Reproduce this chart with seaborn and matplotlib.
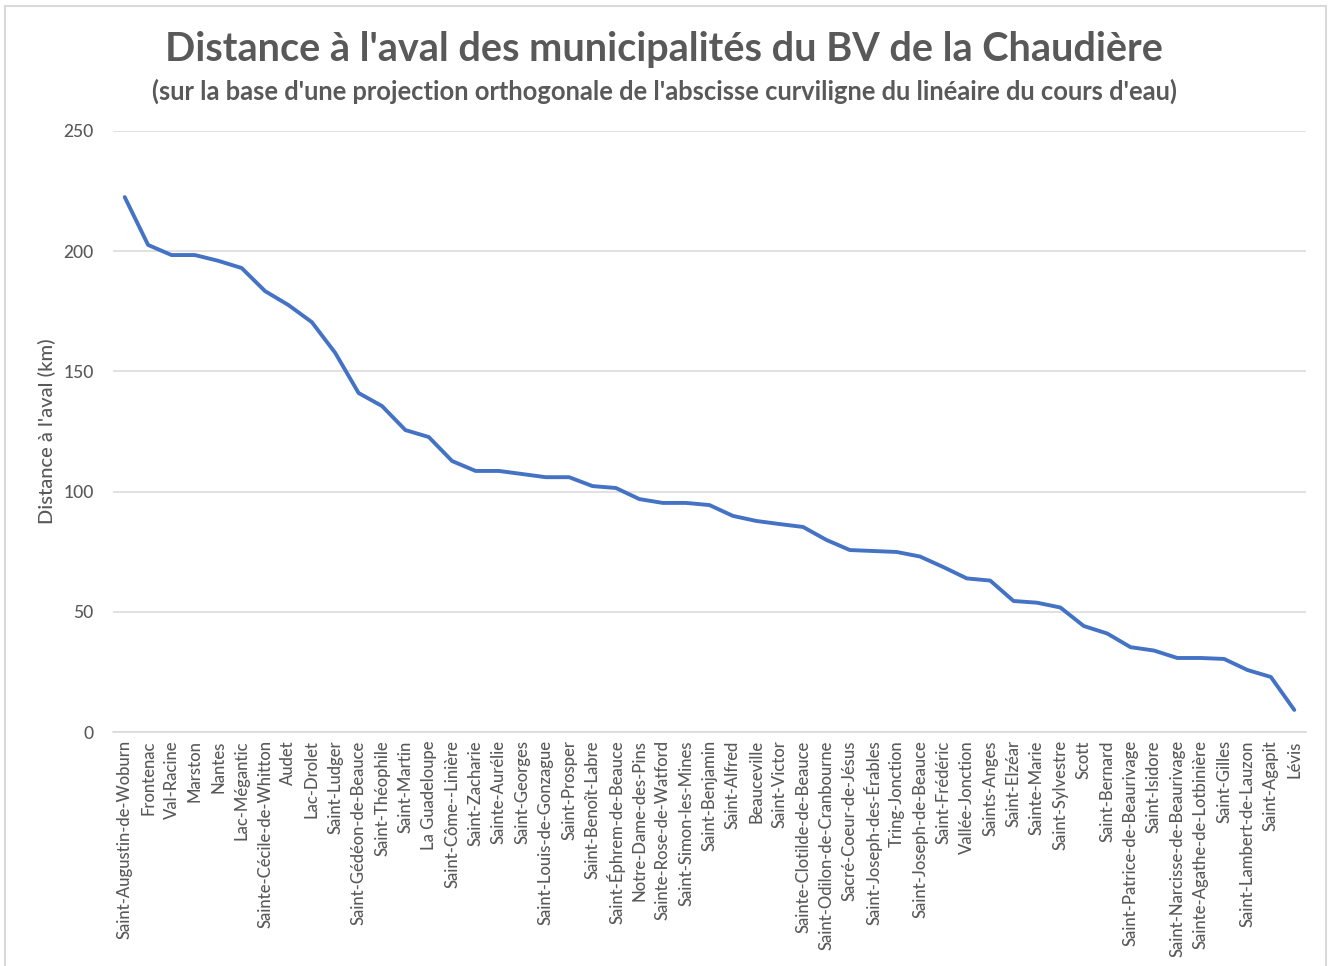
import matplotlib.pyplot as plt
import matplotlib.patches as patches
import seaborn as sns
import pandas as pd

municipalites = [
    "Saint-Augustin-de-Woburn", "Frontenac", "Val-Racine", "Marston", "Nantes",
    "Lac-Mégantic", "Sainte-Cécile-de-Whitton", "Audet", "Lac-Drolet", "Saint-Ludger",
    "Saint-Gédéon-de-Beauce", "Saint-Théophile", "Saint-Martin", "La Guadeloupe",
    "Saint-Côme--Linière", "Saint-Zacharie", "Sainte-Aurélie", "Saint-Georges",
    "Saint-Louis-de-Gonzague", "Saint-Prosper", "Saint-Benoît-Labre",
    "Saint-Éphrem-de-Beauce", "Notre-Dame-des-Pins", "Sainte-Rose-de-Watford",
    "Saint-Simon-les-Mines", "Saint-Benjamin", "Saint-Alfred", "Beauceville",
    "Saint-Victor", "Sainte-Clotilde-de-Beauce", "Saint-Odilon-de-Cranbourne",
    "Sacré-Coeur-de-Jésus", "Saint-Joseph-des-Érables", "Tring-Jonction",
    "Saint-Joseph-de-Beauce", "Saint-Frédéric", "Vallée-Jonction", "Saints-Anges",
    "Saint-Elzéar", "Sainte-Marie", "Saint-Sylvestre", "Scott", "Saint-Bernard",
    "Saint-Patrice-de-Beaurivage", "Saint-Isidore", "Saint-Narcisse-de-Beaurivage",
    "Sainte-Agathe-de-Lotbinière", "Saint-Gilles", "Saint-Lambert-de-Lauzon",
    "Saint-Agapit", "Lévis",
]

distance_km = [
    222.5, 202.6, 198.4, 198.4, 196.0, 193.0, 183.4, 177.6, 170.5, 157.7,
    141.0, 135.6, 125.6, 122.7, 112.7, 108.6, 108.6, 107.3, 106.0, 106.0,
    102.3, 101.5, 96.9, 95.3, 95.3, 94.4, 89.9, 87.8, 86.5, 85.3,
    79.9, 75.7, 75.3, 74.9, 73.0, 68.6, 63.9, 63.0, 54.5, 53.8,
    51.8, 44.1, 41.0, 35.3, 33.9, 30.8, 30.8, 30.4, 25.8, 22.9,
    9.2,
]

y_ticks = [0, 50, 100, 150, 200, 250]

df = pd.DataFrame({"municipalite": municipalites, "distance": distance_km})

sns.set_theme(style="white")
plt.rcParams["font.family"] = ["Lato", "DejaVu Sans"]
text_color = "#595959"

fig = plt.figure(figsize=(13.28, 9.66), dpi=100)
ax = fig.add_axes([0.0851, 0.2422, 0.8983, 0.6222])

# chart area border (light gray frame like the spreadsheet export)
fig.patches.append(patches.Rectangle((5 / 1328, -0.01), 1321 / 1328, 1.0 - 6 / 966 + 0.01,
                                     transform=fig.transFigure, fill=False,
                                     edgecolor="#D9D9D9", linewidth=1.5))

sns.lineplot(data=df, x="municipalite", y="distance", sort=False,
             color="#4472C4", linewidth=2.8, ax=ax)

ax.set_ylim(0, 250)
ax.set_xlim(-0.5, len(municipalites) - 0.5)
ax.set_yticks(y_ticks)
ax.grid(axis="y", color="#D9D9D9", linewidth=1.1)
ax.set_axisbelow(True)
for side in ["top", "right", "left"]:
    ax.spines[side].set_visible(False)
ax.spines["bottom"].set_color("#D9D9D9")
ax.spines["bottom"].set_linewidth(1.1)

ax.tick_params(axis="x", labelrotation=90, labelsize=12, colors=text_color, length=0, pad=6)
ax.tick_params(axis="y", labelsize=12.5, colors=text_color, length=0, pad=14)
for lbl in ax.get_xticklabels() + ax.get_yticklabels():
    lbl.set_fontweight("medium")
ax.set_xlabel("")
ax.set_ylabel("Distance à l'aval (km)", fontsize=14.5, color=text_color, labelpad=5,
              fontweight="medium")

fig.text(0.5, 1 - 49 / 966, "Distance à l'aval des municipalités du BV de la Chaudière",
         ha="center", va="center", fontsize=28.5, fontweight="bold", color=text_color)
fig.text(0.5, 1 - 91 / 966,
         "(sur la base d'une projection orthogonale de l'abscisse curviligne du linéaire du cours d'eau)",
         ha="center", va="center", fontsize=18.4, fontweight="bold", color=text_color)

fig.savefig("out.png", dpi=100)
